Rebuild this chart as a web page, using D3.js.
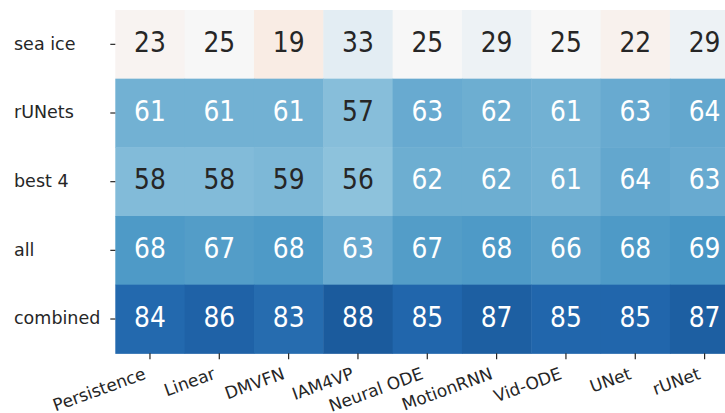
<!DOCTYPE html>
<html>
<head>
<meta charset="utf-8">
<script src="https://cdn.jsdelivr.net/npm/d3@7"></script>
<style>
  html, body { margin: 0; padding: 0; background: #fff; }
  svg { display: block; font-family: "DejaVu Sans", sans-serif; }
</style>
</head>
<body>
<svg id="chart" width="725" height="413"></svg>
<script>
// Models (columns) and evaluation groups (rows)
const models = ["Persistence", "Linear", "DMVFN", "IAM4VP", "Neural ODE", "MotionRNN", "Vid-ODE", "UNet", "rUNet"];
const groups = ["sea ice", "rUNets", "best 4", "all", "combined"];

// Scores per group, one value per model
const seaIce   = [23, 25, 19, 33, 25, 29, 25, 22, 29];
const rUNets   = [61, 61, 61, 57, 63, 62, 61, 63, 64];
const best4    = [58, 58, 59, 56, 62, 62, 61, 64, 63];
const allRow   = [68, 67, 68, 63, 67, 68, 66, 68, 69];
const combined = [84, 86, 83, 88, 85, 87, 85, 85, 87];

const rows = [seaIce, rUNets, best4, allRow, combined];

const cells = [];
rows.forEach((vals, r) => vals.forEach((v, c) => cells.push({ group: groups[r], model: models[c], value: v })));

const svg = d3.select("#chart");
const gridLeft = 115.3, gridTop = 10, cellW = 69.33, cellH = 68.67;

const x = d3.scaleBand().domain(models).range([gridLeft, gridLeft + cellW * models.length]);
const y = d3.scaleBand().domain(groups).range([gridTop, gridTop + cellH * groups.length]);

// Diverging red-blue palette, linearly interpolated between the 11 anchor colours
const rdbu = ["#67001f", "#b2182b", "#d6604d", "#f4a582", "#fddbc7", "#f7f7f7",
              "#d1e5f0", "#92c5de", "#4393c3", "#2166ac", "#053061"];
const rdbuInterp = d3.scaleLinear().domain(d3.range(11).map(i => i / 10)).range(rdbu)
  .interpolate(d3.interpolateRgb).clamp(true);
// Centred colour scale: vmin 0, vmax 100, centre 25
const vmin = 0, vmax = 100, center = 25;
const span = Math.max(vmax - center, center - vmin);
const color = v => rdbuInterp((v - (center - span)) / (2 * span));

function lum(c) {
  const rgb = d3.rgb(c);
  const f = u => { u /= 255; return u <= 0.03928 ? u / 12.92 : Math.pow((u + 0.055) / 1.055, 2.4); };
  return 0.2126 * f(rgb.r) + 0.7152 * f(rgb.g) + 0.0722 * f(rgb.b);
}

const g = svg.append("g");
g.selectAll("rect.cell").data(cells).join("rect")
  .attr("class", "cell")
  .attr("x", d => x(d.model))
  .attr("y", d => y(d.group))
  .attr("width", x.bandwidth() + 0.5)
  .attr("height", y.bandwidth() + 0.5)
  .attr("fill", d => color(d.value));

g.selectAll("text.annot").data(cells).join("text")
  .attr("class", "annot")
  .attr("text-anchor", "middle")
  .attr("font-size", 25)
  .attr("transform", d => `translate(${x(d.model) + x.bandwidth() / 2},${y(d.group) + y.bandwidth() / 2 + 7.5}) scale(1,1.12)`)
  .attr("fill", d => lum(color(d.value)) > 0.408 ? "#262626" : "#ffffff")
  .text(d => d.value);

// Axes
const xAxis = d3.axisBottom(x).tickSize(6).tickSizeOuter(0);
const xg = svg.append("g").attr("transform", `translate(0,${gridTop + cellH * groups.length})`).call(xAxis);
xg.select(".domain").remove();
xg.selectAll(".tick line").attr("stroke", "#262626").attr("stroke-width", 1.2);
xg.selectAll(".tick text")
  .attr("font-family", "DejaVu Sans, sans-serif")
  .attr("font-size", 17)
  .attr("fill", "#262626")
  .attr("text-anchor", "end")
  .attr("y", 0).attr("x", 0).attr("dy", 0)
  .attr("transform", "translate(-3,25) rotate(-20)");

const yAxis = d3.axisLeft(y).tickSize(5).tickSizeOuter(0);
const yg = svg.append("g").attr("transform", `translate(${gridLeft},0)`).call(yAxis);
yg.select(".domain").remove();
yg.selectAll(".tick line").attr("stroke", "#262626").attr("stroke-width", 1.2);
yg.selectAll(".tick text")
  .attr("font-family", "DejaVu Sans, sans-serif")
  .attr("font-size", 17.5)
  .attr("fill", "#262626")
  .attr("text-anchor", "start")
  .attr("x", 14 - gridLeft)
  .attr("dy", "0.3em");
</script>
</body>
</html>
